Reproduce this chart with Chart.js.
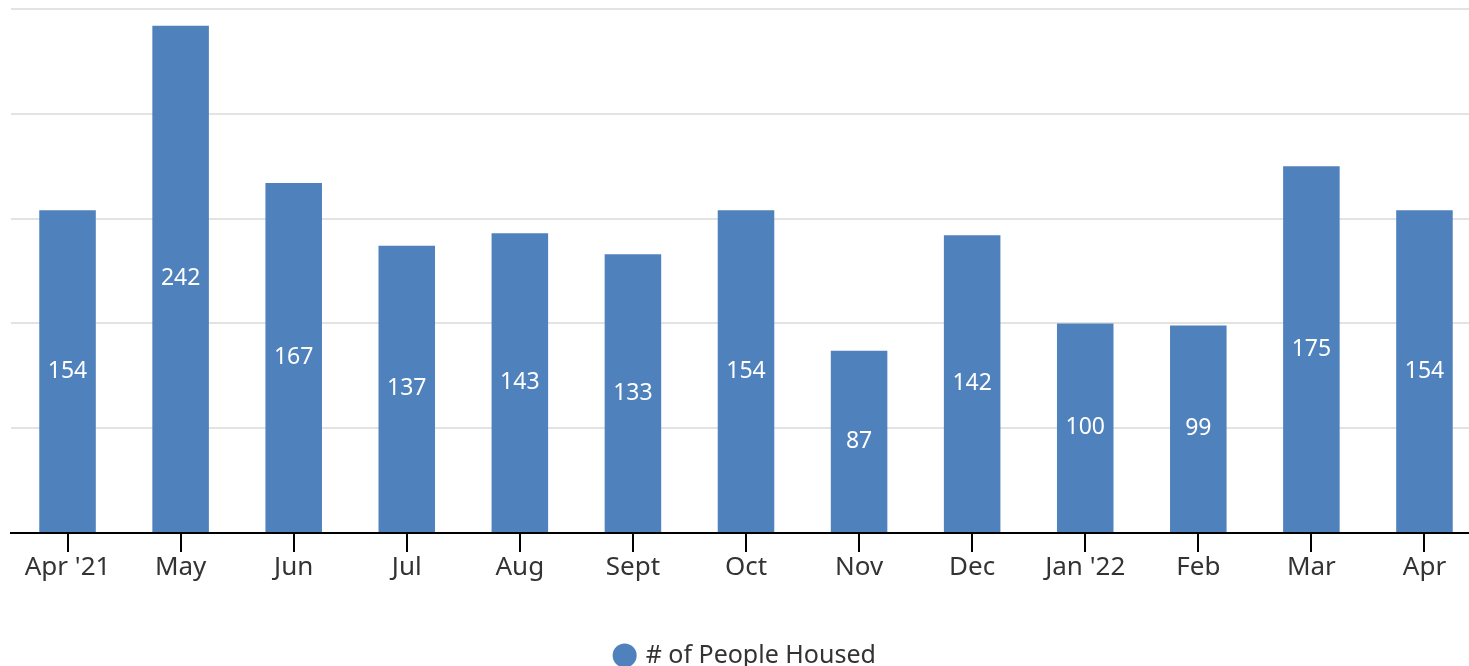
<!DOCTYPE html>
<html lang="en">
<head>
  <meta charset="UTF-8">
  <title># of People Housed</title>
  <script src="https://cdn.jsdelivr.net/npm/chart.js"></script>
  <style>
    body {
      margin: 0;
      background: #ffffff;
      overflow: hidden;
      font-family: "Noto Sans", sans-serif;
    }
    .chart-box {
      position: relative;
      width: 1481px;
      height: 678px;
    }
  </style>
</head>
<body>
  <div class="chart-box">
    <canvas id="barChart"></canvas>
  </div>

  <script>
    const months = ["Apr '21", 'May', 'Jun', 'Jul', 'Aug', 'Sept', 'Oct', 'Nov', 'Dec', "Jan '22", 'Feb', 'Mar', 'Apr'];
    const housed = [154, 242, 167, 137, 143, 133, 154, 87, 142, 100, 99, 175, 154];
    const yTicks = [0, 50, 100, 150, 200, 250];

    // value labels in the middle of each bar
    const centerLabels = {
      id: 'centerLabels',
      afterDatasetsDraw(chart) {
        const ctx = chart.ctx;
        const meta = chart.getDatasetMeta(0);
        ctx.save();
        ctx.fillStyle = '#ffffff';
        ctx.font = '23px "Noto Sans"';
        ctx.textAlign = 'center';
        ctx.textBaseline = 'middle';
        meta.data.forEach((bar, i) => {
          ctx.fillText(housed[i], bar.x, (bar.y + bar.base) / 2);
        });
        ctx.restore();
      }
    };

    new Chart(document.getElementById('barChart'), {
      type: 'bar',
      data: {
        labels: months,
        datasets: [{
          label: '# of People Housed',
          data: housed,
          backgroundColor: '#4f81bd',
          barPercentage: 0.5,
          categoryPercentage: 1
        }]
      },
      options: {
        responsive: true,
        maintainAspectRatio: false,
        animation: false,
        layout: { padding: { top: 9, left: 11, right: 0 } },
        plugins: {
          legend: {
            position: 'bottom',
            labels: {
              usePointStyle: true,
              pointStyle: 'circle',
              boxWidth: 17,
              boxHeight: 17,
              color: '#333',
              padding: 10,
              font: { family: 'Noto Sans', size: 25 }
            }
          },
          tooltip: { enabled: false }
        },
        scales: {
          x: {
            grid: {
              offset: false,
              drawOnChartArea: false,
              drawTicks: true,
              tickLength: 19,
              color: '#000',
              lineWidth: 2
            },
            border: { color: '#000', width: 2 },
            ticks: {
              color: '#333',
              padding: 0,
              maxRotation: 0,
              font: { family: 'Noto Sans', size: 26 }
            },
            afterFit(scale) { scale.height = 100; }
          },
          y: {
            min: 0,
            max: 250,
            afterBuildTicks(scale) { scale.ticks = yTicks.map(v => ({ value: v })); },
            grid: { color: '#e3e3e3', lineWidth: 2, drawTicks: false },
            border: { display: false },
            ticks: { display: false }
          }
        }
      },
      plugins: [centerLabels]
    });
  </script>
</body>
</html>
